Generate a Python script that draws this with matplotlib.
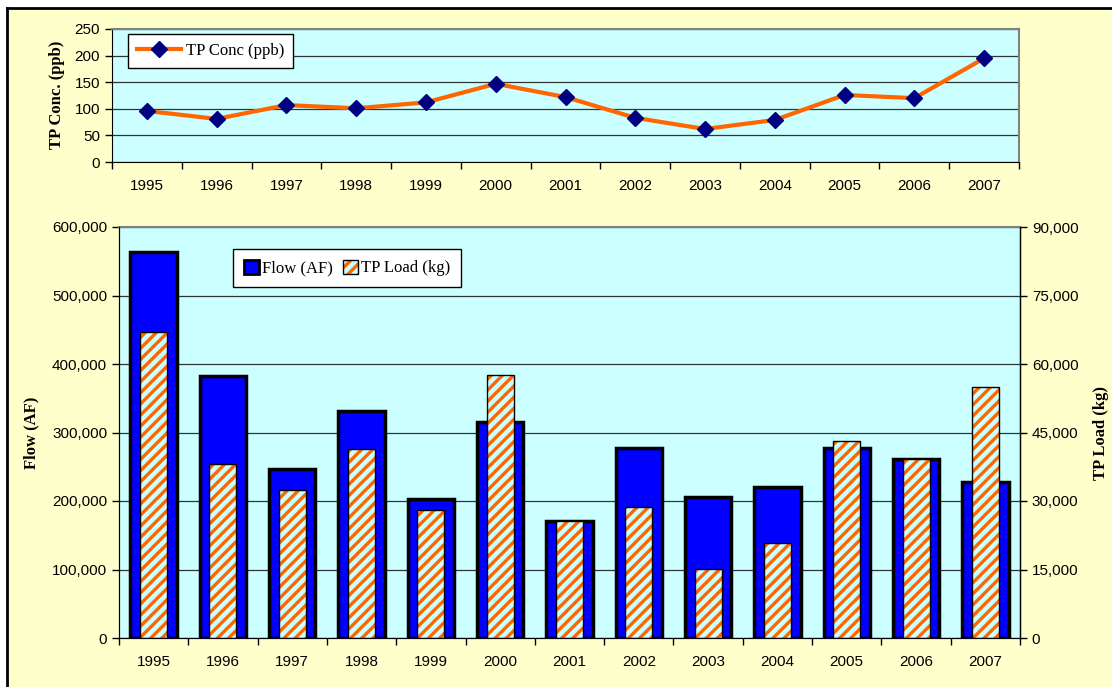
import numpy as np
import matplotlib
matplotlib.use("Agg")
from matplotlib import pyplot as plt
from matplotlib.patches import Patch, Rectangle
from matplotlib.lines import Line2D
from matplotlib.ticker import StrMethodFormatter

# data
years = ["1995", "1996", "1997", "1998", "1999", "2000", "2001",
         "2002", "2003", "2004", "2005", "2006", "2007"]
tp_conc = [96, 81, 107, 101, 112, 147, 122, 83, 62, 79, 126, 120, 195]
flow_af = [563000, 383000, 246000, 332000, 203000, 316000, 171000,
           278000, 206000, 220000, 277000, 262000, 228000]
tp_load = [67000, 38200, 32500, 41300, 28000, 57700, 25700,
           28600, 15200, 20700, 43100, 39200, 55000]

plt.rcParams['font.family'] = ['Liberation Sans', 'DejaVu Sans']
plt.rcParams['hatch.linewidth'] = 2.4

W, H = 1112, 687
fig = plt.figure(figsize=(W / 100, H / 100), dpi=100, facecolor='white')

# chart area background + black border top/left
fig.patches.append(Rectangle((7 / W, 0), 1, (H - 8) / H, transform=fig.transFigure,
                             facecolor='#FFFFCC', edgecolor='none', zorder=-10))
fig.lines.append(Line2D([7 / W, 1], [(H - 8) / H, (H - 8) / H], transform=fig.transFigure,
                        color='black', linewidth=2))
fig.lines.append(Line2D([7 / W, 7 / W], [0, (H - 8) / H], transform=fig.transFigure,
                        color='black', linewidth=2))

serif = ['Liberation Serif', 'DejaVu Serif']
x = np.arange(len(years))
tick_fs = 11
hatch = '///'

def style_axes(ax):
    ax.set_facecolor('#CCFFFF')
    ax.set_xlim(-0.5, len(years) - 0.5)
    ax.set_xticks(np.arange(-0.5, len(years), 1))
    ax.set_xticklabels([])
    ax.set_xticks(x, minor=True)
    ax.set_xticklabels(years, minor=True, fontsize=tick_fs)
    ax.tick_params(axis='x', which='major', direction='out', length=5, width=1)
    ax.tick_params(axis='x', which='minor', length=0, pad=12)
    ax.tick_params(axis='y', direction='out', length=5, width=1, labelsize=tick_fs)
    ax.grid(axis='y', color='#333333', linewidth=0.9)
    ax.set_axisbelow(True)
    for s in ['left', 'bottom']:
        ax.spines[s].set_color('black')
    for s in ['top', 'right']:
        ax.spines[s].set_color('#808080')
        ax.spines[s].set_linewidth(1.5)

# ---- top chart: TP concentration
ax1 = fig.add_axes([112 / W, (H - 162) / H, 907 / W, 133 / H])
style_axes(ax1)
ax1.plot(x, tp_conc, color='#FF6600', linewidth=3, marker='D', markersize=8,
         markerfacecolor='#000080', markeredgecolor='#000080', label='TP Conc (ppb)',
         clip_on=False)
ax1.set_ylim(0, 250)
ax1.set_yticks(np.arange(0, 251, 50))
ax1.legend(loc='upper left', bbox_to_anchor=(128 / W, (H - 34) / H),
           bbox_transform=fig.transFigure, borderaxespad=0, fancybox=False,
           edgecolor='black', framealpha=1, prop={'family': serif, 'size': 12},
           handlelength=2.6, handletextpad=0.3, borderpad=0.55)

# ---- bottom chart: flow + load
ax = fig.add_axes([119 / W, 49 / H, 901 / W, 411 / H])
style_axes(ax)
ax.spines['right'].set_color('black')
ax.spines['right'].set_linewidth(1)
ax.bar(x, flow_af, width=0.67, color='#0000FF', edgecolor='black', linewidth=2.5)
ax.set_ylim(0, 600000)
ax.set_yticks(np.arange(0, 600001, 100000))
ax.yaxis.set_major_formatter(StrMethodFormatter('{x:,.0f}'))

ax2 = ax.twinx()
ax2.bar(x, tp_load, width=0.39, color='#CCFFFF', edgecolor='#FF6600', hatch=hatch,
        linewidth=0)
ax2.bar(x, tp_load, width=0.39, fill=False, edgecolor='black', linewidth=1)
ax2.set_ylim(0, 90000)
ax2.set_yticks(np.arange(0, 90001, 15000))
ax2.yaxis.set_major_formatter(StrMethodFormatter('{x:,.0f}'))
ax2.tick_params(axis='y', direction='out', length=5, width=1, labelsize=tick_fs)
ax2.spines['right'].set_color('black')
ax2.spines['top'].set_visible(False)

flow_h = Patch(facecolor='#0000FF', edgecolor='black', linewidth=2)
load_h = (Patch(facecolor='#CCFFFF', edgecolor='#FF6600', hatch=hatch, linewidth=0),
          Patch(fill=False, edgecolor='black', linewidth=1))
ax2.legend([flow_h, load_h], ['Flow (AF)', 'TP Load (kg)'], ncol=2,
           loc='upper left', bbox_to_anchor=(233 / W, (H - 249) / H),
           bbox_transform=fig.transFigure, borderaxespad=0, fancybox=False,
           edgecolor='black', framealpha=1, prop={'family': serif, 'size': 12},
           handlelength=0.9, handleheight=0.9, handletextpad=0.2,
           columnspacing=0.6, borderpad=0.65)

# axis titles
fig.text(57 / W, (H - 95) / H, 'TP Conc. (ppb)', rotation=90, ha='center', va='center',
         family=serif, weight='bold', size=12)
fig.text(31 / W, (H - 433) / H, 'Flow (AF)', rotation=90, ha='center', va='center',
         family=serif, weight='bold', size=12)
fig.text(1101 / W, (H - 433) / H, 'TP Load (kg)', rotation=90, ha='center', va='center',
         family=serif, weight='bold', size=12)

fig.savefig('out.png', dpi=100, facecolor=fig.get_facecolor())
